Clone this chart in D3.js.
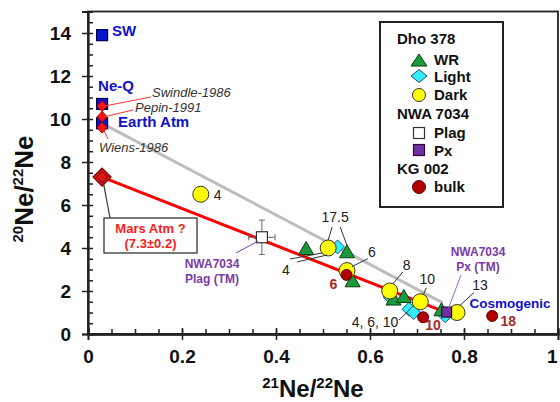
<!DOCTYPE html>
<html><head><meta charset="utf-8">
<script src="https://cdn.jsdelivr.net/npm/d3@7"></script>
<style>body{margin:0;background:#fff}svg{display:block;font-family:Arial,"Liberation Sans",sans-serif}</style>
</head><body><svg id="c" width="560" height="402"></svg>
<script>
// ---- data ----
const xTicks = [0, 0.2, 0.4, 0.6, 0.8, 1];
const xTickLabels = ["0", "0.2", "0.4", "0.6", "0.8", "1"];
const yTicks = [0, 2, 4, 6, 8, 10, 12, 14];
// Dho 378
const wrData = [[0.464, 3.95], [0.551, 3.8], [0.563, 2.45], [0.650, 1.6], [0.672, 1.72], [0.752, 1.1]];
const lightData = [[0.531, 4.05], [0.643, 1.72], [0.683, 1.15], [0.693, 1.0], [0.760, 0.85]];
const darkData = [[0.240, 6.5], [0.511, 4.0], [0.551, 2.95], [0.642, 2.0], [0.707, 1.5], [0.785, 1.0]];
const darkLabels = ["4", "17.5", "6", "8", "10", "13"];
// NWA 7034
const plagData = [[0.370, 4.5]];
const plagErrX = [0.028];
const plagErrY = [0.8];
const pxData = [[0.763, 1.02]];
// KG 002
const bulkData = [[0.550, 2.75], [0.713, 0.78], [0.860, 0.84]];
const bulkLabels = ["6", "10", "18"];
// reference components
const refSquares = [[0.03, 13.9], [0.03, 10.7], [0.03, 9.8]];
const refSquareNames = ["SW", "Ne-Q", "Earth Atm"];
const marsDiamonds = [[0.03, 10.6], [0.03, 10.1], [0.03, 9.6]];
const marsDiamondNames = ["Swindle-1986", "Pepin-1991", "Wiens-1986"];
const marsAtm = [0.03, 7.3];
const grayLine = [[0.03, 9.8], [0.755, 1.45]];
const redLine = [[0.03, 7.3], [0.755, 1.06]];

// ---- scales ----
const svg = d3.select("#c");
const x = d3.scaleLinear().domain([0, 1]).range([88, 558]);
const y = d3.scaleLinear().domain([0, 15]).range([334, 11.5]);

// frame
svg.append("rect").attr("x", x(0)).attr("y", y(15)).attr("width", x(1) - x(0)).attr("height", y(0) - y(15))
  .attr("fill", "none").attr("stroke", "#222").attr("stroke-width", 1.8);

// axes
const yAx = svg.append("g").attr("transform", `translate(${x(0)},0)`)
  .call(d3.axisLeft(y).tickValues(yTicks).tickSize(6).tickPadding(11).tickFormat(d3.format("d")));
const yMin = svg.append("g").attr("transform", `translate(${x(0)},0)`)
  .call(d3.axisRight(y).tickValues(d3.range(0, 15.01, 0.5)).tickSize(5).tickFormat(""));
const xAx = svg.append("g").attr("transform", `translate(0,${y(0)})`)
  .call(d3.axisBottom(x).tickValues(xTicks).tickSize(6).tickPadding(10).tickFormat((d, i) => xTickLabels[i]));
const xMin = svg.append("g").attr("transform", `translate(0,${y(0)})`)
  .call(d3.axisTop(x).tickValues(d3.range(0, 1.001, 0.05)).tickSize(5).tickFormat(""));
const xMaj = svg.append("g").attr("transform", `translate(0,${y(0)})`)
  .call(d3.axisTop(x).tickValues(xTicks).tickSize(6).tickFormat(""));
[yAx, yMin, xAx, xMin, xMaj].forEach(g => {
  g.select(".domain").attr("stroke", "#222").attr("stroke-width", 1.8);
  g.selectAll(".tick line").attr("stroke", "#222").attr("stroke-width", 1.5);
  g.selectAll("text").attr("font-size", 19).attr("font-weight", "bold").attr("fill", "#111")
    .attr("font-family", "Arial, 'Liberation Sans', sans-serif");
});
// keep the last x label inside the window
xAx.selectAll(".tick").filter(d => d === 1).select("text").attr("text-anchor", "end").attr("dx", -1);

// axis titles
const yl = svg.append("text").attr("transform", "translate(33,189) rotate(-90)").attr("text-anchor", "middle")
  .attr("font-weight", "bold").attr("font-size", 26).attr("fill", "#111");
yl.append("tspan").attr("font-size", 15).attr("dy", -10).text("20");
yl.append("tspan").attr("dy", 10).text("Ne/");
yl.append("tspan").attr("font-size", 15).attr("dy", -10).text("22");
yl.append("tspan").attr("dy", 10).text("Ne");
const xl = svg.append("text").attr("x", 313).attr("y", 397).attr("text-anchor", "middle")
  .attr("font-weight", "bold").attr("font-size", 24).attr("fill", "#111");
xl.append("tspan").attr("font-size", 15).attr("dy", -9).text("21");
xl.append("tspan").attr("dy", 9).text("Ne/");
xl.append("tspan").attr("font-size", 15).attr("dy", -9).text("22");
xl.append("tspan").attr("dy", 9).text("Ne");

// mixing lines
const line = d3.line().x(d => x(d[0])).y(d => y(d[1]));
svg.append("path").attr("d", line(grayLine)).attr("stroke", "#bdbdbd").attr("stroke-width", 3).attr("fill", "none");
svg.append("path").attr("d", line(redLine)).attr("stroke", "#ff0000").attr("stroke-width", 3).attr("fill", "none");

// marker helpers
function tri(g, cx, cy, w, h) {
  return g.append("path").attr("d", `M${cx},${cy - h * 0.58}L${cx + w / 2},${cy + h * 0.42}L${cx - w / 2},${cy + h * 0.42}Z`)
    .attr("fill", "#1a9a3a").attr("stroke", "#0b3d12").attr("stroke-width", 1);
}
function dia(g, cx, cy, w, h, fill, stroke) {
  return g.append("path").attr("d", `M${cx},${cy - h / 2}L${cx + w / 2},${cy}L${cx},${cy + h / 2}L${cx - w / 2},${cy}Z`)
    .attr("fill", fill).attr("stroke", stroke).attr("stroke-width", 1);
}
function sq(g, cx, cy, s, fill, stroke) {
  return g.append("rect").attr("x", cx - s / 2).attr("y", cy - s / 2).attr("width", s).attr("height", s)
    .attr("fill", fill).attr("stroke", stroke).attr("stroke-width", 1.2);
}
function circ(g, cx, cy, r, fill, stroke) {
  return g.append("circle").attr("cx", cx).attr("cy", cy).attr("r", r).attr("fill", fill).attr("stroke", stroke).attr("stroke-width", 1);
}
function lead(x1, y1, x2, y2, col, w) {
  svg.append("line").attr("x1", x1).attr("y1", y1).attr("x2", x2).attr("y2", y2)
    .attr("stroke", col || "#333").attr("stroke-width", w || 1);
}
function txt(t, px, py, opt) {
  opt = opt || {};
  return svg.append("text").attr("x", px).attr("y", py).attr("text-anchor", opt.anchor || "middle")
    .attr("font-size", opt.size || 14).attr("font-weight", opt.weight || "normal")
    .attr("font-style", opt.style || "normal").attr("fill", opt.fill || "#222").text(t);
}

// reference component markers
const ref = svg.append("g");
refSquares.forEach(d => sq(ref, x(d[0]), y(d[1]), 11, "#0a14c8", "#000050"));
marsDiamonds.forEach(d => dia(ref, x(d[0]), y(d[1]), 10, 11, "#ff1010", "#900"));
dia(ref, x(marsAtm[0]), y(marsAtm[1]), 18, 18, "#e01818", "#6a0000").attr("stroke-width", 1.2);
dia(ref, x(marsAtm[0]), y(marsAtm[1]), 11, 11, "none", "#6a0000");

const blue = "#1010d0";
txt(refSquareNames[0], x(refSquares[0][0]) + 10, y(refSquares[0][1]) + 1, {anchor: "start", size: 15, weight: "bold", fill: blue});
txt(refSquareNames[1], x(refSquares[1][0]) - 4, y(refSquares[1][1]) - 13, {anchor: "start", size: 15, weight: "bold", fill: blue});
txt(refSquareNames[2], x(refSquares[2][0]) + 16, y(refSquares[2][1]) + 4, {anchor: "start", size: 15, weight: "bold", fill: blue});

// Mars meteorite trapped-gas labels
const md = marsDiamonds.map(d => [x(d[0]), y(d[1])]);
lead(md[0][0] + 2, md[0][1], 151, 97, "#ff3030", 1);
lead(md[1][0] + 2, md[1][1], 133, 110, "#ff3030", 1);
lead(md[2][0] + 1, md[2][1] + 1, 108, 139, "#ff3030", 1);
txt(marsDiamondNames[0], 152, 97, {anchor: "start", size: 13, style: "italic", fill: "#333"});
txt(marsDiamondNames[1], 135, 112, {anchor: "start", size: 13, style: "italic", fill: "#333"});
txt(marsDiamondNames[2], 99, 152, {anchor: "start", size: 13, style: "italic", fill: "#333"});

// Mars Atm box
lead(x(marsAtm[0]) + 1, y(marsAtm[1]) + 4, 110, 218, "#444", 1.3);
svg.append("rect").attr("x", 104).attr("y", 218).attr("width", 93).attr("height", 35)
  .attr("fill", "#fff").attr("stroke", "#333").attr("stroke-width", 1.3);
txt("Mars Atm ?", 150.5, 233, {size: 13, weight: "bold", fill: "#ff1a1a"});
txt("(7.3\u00b10.2)", 150.5, 248, {size: 13, weight: "bold", fill: "#ff1a1a"});

// NWA 7034 plag with error bars
const pl = svg.append("g");
plagData.forEach((d, i) => {
  const cx = x(d[0]), cy = y(d[1]);
  const ex0 = x(d[0] - plagErrX[i]), ex1 = x(d[0] + plagErrX[i]);
  const ey0 = y(d[1] - plagErrY[i]), ey1 = y(d[1] + plagErrY[i]);
  pl.append("line").attr("x1", ex0).attr("x2", ex1).attr("y1", cy).attr("y2", cy).attr("stroke", "#666");
  pl.append("line").attr("x1", cx).attr("x2", cx).attr("y1", ey0).attr("y2", ey1).attr("stroke", "#666");
  [ex0, ex1].forEach(e => pl.append("line").attr("x1", e).attr("x2", e).attr("y1", cy - 3).attr("y2", cy + 3).attr("stroke", "#666"));
  [ey0, ey1].forEach(e => pl.append("line").attr("y1", e).attr("y2", e).attr("x1", cx - 3).attr("x2", cx + 3).attr("stroke", "#666"));
  sq(pl, cx, cy, 11, "#fff", "#333");
  lead(cx - 4, cy + 4, 236, 253, "#7a3fb0", 1);
});
const purple = "#7a3aa8";
txt("NWA7034", 212, 268, {size: 12, weight: "bold", fill: purple});
txt("Plag (TM)", 212, 283, {size: 12, weight: "bold", fill: purple});

// Dho 378 and others
const pts = svg.append("g");
lightData.forEach(d => dia(pts, x(d[0]), y(d[1]), 14, 14, "#33eeff", "#1a5a6a"));
wrData.forEach(d => tri(pts, x(d[0]), y(d[1]), 15, 13));
darkData.forEach(d => circ(pts, x(d[0]), y(d[1]), 8, "#ffff00", "#333"));
bulkData.forEach(d => circ(pts, x(d[0]), y(d[1]), 5.5, "#b00000", "#500"));
pxData.forEach(d => sq(pts, x(d[0]), y(d[1]), 10, "#7030a0", "#2a0a40"));

// dark labels with leaders
const dp = darkData.map(d => [x(d[0]), y(d[1])]);
txt(darkLabels[0], dp[0][0] + 13, dp[0][1] + 6, {anchor: "start"});
txt(darkLabels[1], dp[1][0] + 7, dp[1][1] - 26);
lead(dp[1][0] + 4, dp[1][1] - 21, dp[1][0], dp[1][1] - 8);
lead(dp[1][0] + 12, dp[1][1] - 21, x(wrData[1][0]), y(wrData[1][1]) - 7);
txt("4", 286, 275);
lead(290, 259, dp[1][0] - 6, dp[1][1] + 5);
lead(297, 262, dp[1][0] - 1, dp[1][1] + 7);
txt(darkLabels[2], dp[2][0] + 25, dp[2][1] - 14);
lead(dp[2][0] + 21, dp[2][1] - 12, dp[2][0] + 5, dp[2][1] - 4);
txt(darkLabels[3], dp[3][0] + 17, dp[3][1] - 21);
lead(dp[3][0] + 13, dp[3][1] - 19, dp[3][0] + 3, dp[3][1] - 7);
txt(darkLabels[4], dp[4][0] + 7, dp[4][1] - 18);
lead(dp[4][0] + 6, dp[4][1] - 14, dp[4][0] + 3, dp[4][1] - 7);
txt(darkLabels[5], dp[5][0] + 23, dp[5][1] - 23);
lead(dp[5][0] + 17, dp[5][1] - 20, dp[5][0] + 3, dp[5][1] - 7);
txt("4, 6, 10", 375, 327);
lead(399, 320, x(lightData[2][0]) - 2, y(lightData[2][1]) + 3);

// bulk labels
const brown = "#a52a2a";
const bp = bulkData.map(d => [x(d[0]), y(d[1])]);
txt(bulkLabels[0], bp[0][0] - 13, bp[0][1] + 14, {size: 14, weight: "bold", fill: brown});
txt(bulkLabels[1], bp[1][0] + 10, bp[1][1] + 13, {size: 14, weight: "bold", fill: brown});
txt(bulkLabels[2], bp[2][0] + 16, bp[2][1] + 10, {size: 14, weight: "bold", fill: brown});

// Px label
const pp = [x(pxData[0][0]), y(pxData[0][1])];
lead(pp[0] + 2, pp[1] - 4, 461, 275, "#9a6ad0", 1);
txt("NWA7034", 478, 256, {size: 12, weight: "bold", fill: purple});
txt("Px (TM)", 478, 271, {size: 12, weight: "bold", fill: purple});
txt("Cosmogenic", 510, 308, {size: 13.5, weight: "bold", fill: blue});

// legend
const lg = svg.append("g");
lg.append("rect").attr("x", 380).attr("y", 22).attr("width", 123).attr("height", 185)
  .attr("fill", "#fff").attr("stroke", "#222").attr("stroke-width", 2);
const hdr = (t, yy) => lg.append("text").attr("x", 397).attr("y", yy).attr("font-size", 15).attr("font-weight", "bold").attr("fill", "#111").text(t);
const item = (t, yy) => lg.append("text").attr("x", 434).attr("y", yy).attr("font-size", 15).attr("font-weight", "bold").attr("fill", "#111").text(t);
hdr("Dho 378", 44);
tri(lg, 419, 61, 16, 12); item("WR", 65);
dia(lg, 419, 76, 16, 13, "#33eeff", "#1a5a6a"); item("Light", 82);
circ(lg, 419, 95, 6.5, "#ffff00", "#333"); item("Dark", 100);
hdr("NWA 7034", 119);
sq(lg, 419, 133, 11, "#fff", "#333"); item("Plag", 138);
sq(lg, 419, 150, 11, "#7030a0", "#2a0a40"); item("Px", 156);
hdr("KG 002", 174);
circ(lg, 419, 187, 6.5, "#b00000", "#500"); item("bulk", 192);
</script></body></html>
